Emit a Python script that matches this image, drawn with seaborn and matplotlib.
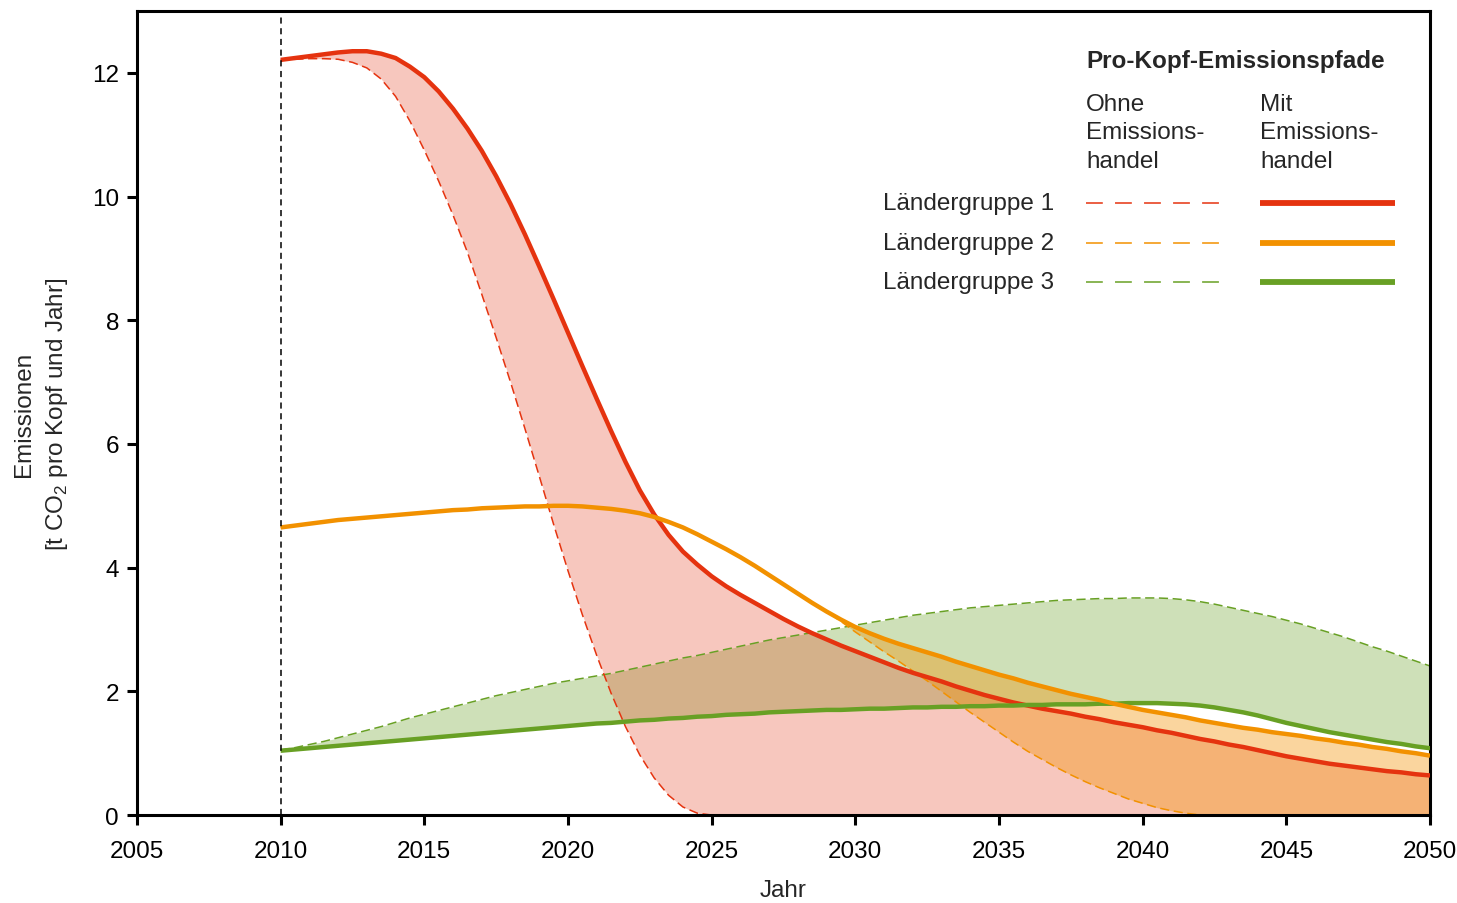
import matplotlib
matplotlib.use("Agg")
import matplotlib.pyplot as plt
import seaborn as sns

# Jahre 2010 - 2050 in Halbjahresschritten
jahre = [2010 + 0.5 * i for i in range(81)]

# Ländergruppe 1
mit_1 = [12.21, 12.24, 12.27, 12.30, 12.33, 12.35, 12.35, 12.31, 12.24, 12.10,
         11.93, 11.70, 11.42, 11.10, 10.74, 10.33, 9.88, 9.39, 8.87, 8.34,
         7.80, 7.26, 6.73, 6.21, 5.71, 5.25, 4.86, 4.53, 4.26, 4.05,
         3.86, 3.70, 3.56, 3.43, 3.30, 3.17, 3.05, 2.94, 2.84, 2.74,
         2.65, 2.56, 2.47, 2.38, 2.30, 2.23, 2.16, 2.08, 2.01, 1.94,
         1.88, 1.82, 1.77, 1.72, 1.68, 1.64, 1.59, 1.55, 1.50, 1.46,
         1.42, 1.37, 1.33, 1.28, 1.23, 1.19, 1.14, 1.10, 1.05, 1.00,
         0.95, 0.91, 0.87, 0.83, 0.80, 0.77, 0.74, 0.71, 0.69, 0.66,
         0.64]
ohne_1 = [12.21, 12.22, 12.23, 12.23, 12.22, 12.17, 12.08, 11.90, 11.62, 11.22,
          10.75, 10.25, 9.70, 9.10, 8.42, 7.72, 7.00, 6.25, 5.48, 4.70,
          3.95, 3.24, 2.58, 1.97, 1.43, 0.97, 0.60, 0.32, 0.13, 0.03] + [0.0] * 51

# Ländergruppe 2
mit_2 = [4.65, 4.68, 4.71, 4.74, 4.77, 4.79, 4.81, 4.83, 4.85, 4.87,
         4.89, 4.91, 4.93, 4.94, 4.96, 4.97, 4.98, 4.99, 4.99, 5.00,
         5.00, 4.99, 4.97, 4.95, 4.92, 4.88, 4.82, 4.74, 4.65, 4.54,
         4.42, 4.30, 4.17, 4.03, 3.88, 3.73, 3.58, 3.43, 3.29, 3.16,
         3.04, 2.94, 2.85, 2.77, 2.70, 2.63, 2.56, 2.48, 2.41, 2.34,
         2.27, 2.21, 2.14, 2.08, 2.02, 1.96, 1.91, 1.86, 1.80, 1.75,
         1.70, 1.66, 1.62, 1.58, 1.53, 1.49, 1.45, 1.41, 1.38, 1.34,
         1.31, 1.28, 1.24, 1.21, 1.17, 1.14, 1.10, 1.07, 1.03, 1.00,
         0.96]
ohne_2 = [4.65, 4.68, 4.71, 4.74, 4.77, 4.79, 4.81, 4.83, 4.85, 4.87,
          4.89, 4.91, 4.93, 4.94, 4.96, 4.97, 4.98, 4.99, 4.99, 5.00,
          5.00, 4.99, 4.97, 4.95, 4.92, 4.88, 4.82, 4.74, 4.65, 4.54,
          4.42, 4.30, 4.17, 4.03, 3.88, 3.73, 3.58, 3.43, 3.29, 3.13,
          2.96, 2.80, 2.64, 2.49, 2.33, 2.17, 2.00, 1.83, 1.66, 1.50,
          1.34, 1.18, 1.03, 0.90, 0.77, 0.65, 0.54, 0.44, 0.35, 0.26,
          0.19, 0.12, 0.07, 0.03] + [0.0] * 17

# Ländergruppe 3
mit_3 = [1.04, 1.06, 1.08, 1.10, 1.12, 1.14, 1.16, 1.18, 1.20, 1.22,
         1.24, 1.26, 1.28, 1.30, 1.32, 1.34, 1.36, 1.38, 1.40, 1.42,
         1.44, 1.46, 1.48, 1.49, 1.51, 1.53, 1.54, 1.56, 1.57, 1.59,
         1.60, 1.62, 1.63, 1.64, 1.66, 1.67, 1.68, 1.69, 1.70, 1.70,
         1.71, 1.72, 1.72, 1.73, 1.74, 1.74, 1.75, 1.75, 1.76, 1.76,
         1.77, 1.77, 1.78, 1.78, 1.79, 1.79, 1.79, 1.80, 1.80, 1.81,
         1.81, 1.81, 1.80, 1.79, 1.77, 1.74, 1.70, 1.66, 1.61, 1.55,
         1.49, 1.44, 1.39, 1.34, 1.30, 1.26, 1.22, 1.18, 1.15, 1.11,
         1.08]
ohne_3 = [1.05, 1.09, 1.14, 1.19, 1.25, 1.31, 1.37, 1.43, 1.50, 1.57,
          1.63, 1.69, 1.75, 1.81, 1.87, 1.93, 1.98, 2.03, 2.08, 2.13,
          2.17, 2.21, 2.25, 2.29, 2.34, 2.39, 2.44, 2.49, 2.54, 2.58,
          2.63, 2.68, 2.73, 2.78, 2.83, 2.87, 2.91, 2.95, 2.99, 3.03,
          3.07, 3.11, 3.15, 3.19, 3.23, 3.26, 3.29, 3.32, 3.35, 3.37,
          3.39, 3.41, 3.43, 3.45, 3.47, 3.48, 3.49, 3.50, 3.50, 3.51,
          3.51, 3.51, 3.50, 3.48, 3.45, 3.41, 3.36, 3.31, 3.26, 3.21,
          3.15, 3.09, 3.02, 2.95, 2.88, 2.80, 2.72, 2.65, 2.57, 2.49,
          2.41]

gruppen = ["Ländergruppe 1", "Ländergruppe 2", "Ländergruppe 3"]
farben = ["#e5330f", "#f29100", "#68a024"]
fill_alpha = [0.27, 0.38, 0.32]

sns.set_style("ticks")
plt.rcParams["font.family"] = ["Liberation Sans", "DejaVu Sans"]
plt.rcParams["mathtext.fontset"] = "custom"
plt.rcParams["mathtext.rm"] = "Liberation Sans"
FS = 17.5

fig = plt.figure(figsize=(14.57, 9.04), dpi=100)
ax = fig.add_axes([0.094, 0.0973, 0.8875, 0.8894])

ohne_list = [ohne_1, ohne_2, ohne_3]
mit_list = [mit_1, mit_2, mit_3]

# Flächen zwischen "ohne" und "mit" (grün zuerst, dann rot, dann orange)
for i in [2, 0, 1]:
    ax.fill_between(jahre, ohne_list[i], mit_list[i], color=farben[i],
                    alpha=fill_alpha[i], lw=0, zorder=1)

# gestrichelte Linien (ohne Emissionshandel)
for i in [2, 0, 1]:
    sns.lineplot(x=jahre, y=ohne_list[i], color=farben[i], lw=1.1,
                 linestyle=(0, (6, 3)), ax=ax, zorder=2)

# durchgezogene Linien (mit Emissionshandel)
for i in [0, 2, 1]:
    sns.lineplot(x=jahre, y=mit_list[i], color=farben[i], lw=3.2, ax=ax,
                 zorder=3, solid_capstyle="butt", solid_joinstyle="round")

ax.axvline(2010, color="black", lw=1.1, linestyle=(0, (4, 3)), zorder=4)

ax.set_xlim(2005, 2050)
ax.set_ylim(0, 13)
ax.set_xticks(range(2005, 2051, 5))
ax.set_yticks(range(0, 13, 2))
ax.tick_params(direction="out", length=7, width=2.2, labelsize=FS,
               colors="black")
ax.tick_params(axis="x", pad=11)
ax.tick_params(axis="y", pad=6)
for s in ax.spines.values():
    s.set_linewidth(2.2)
    s.set_color("black")
    s.set_visible(True)

ax.set_xlabel("Jahr", fontsize=FS, labelpad=12)
ax.set_ylabel("Emissionen\n[t CO$_2$ pro Kopf und Jahr]", fontsize=FS,
              labelpad=16, linespacing=1.45)

# Legende von Hand
tr = ax.transAxes
ax.text(0.734, 0.938, "Pro-Kopf-Emissionspfade", transform=tr, fontsize=FS,
        fontweight="bold", ha="left", va="center")
ax.text(0.734, 0.898, "Ohne\nEmissions-\nhandel", transform=tr, fontsize=FS,
        ha="left", va="top", linespacing=1.38)
ax.text(0.8685, 0.898, "Mit\nEmissions-\nhandel", transform=tr, fontsize=FS,
        ha="left", va="top", linespacing=1.38)
zeilen_y = [0.761, 0.7115, 0.663]
for name, c, yy in zip(gruppen, farben, zeilen_y):
    ax.text(0.709, yy, name, transform=tr, fontsize=FS, ha="right", va="center")
    ax.plot([0.734, 0.838], [yy, yy], transform=tr, color=c, lw=1.1,
            linestyle=(0, (11, 8)), clip_on=False)
    ax.plot([0.8685, 0.973], [yy, yy], transform=tr, color=c, lw=4.2,
            solid_capstyle="butt", clip_on=False)

fig.savefig("out.png", dpi=100)
